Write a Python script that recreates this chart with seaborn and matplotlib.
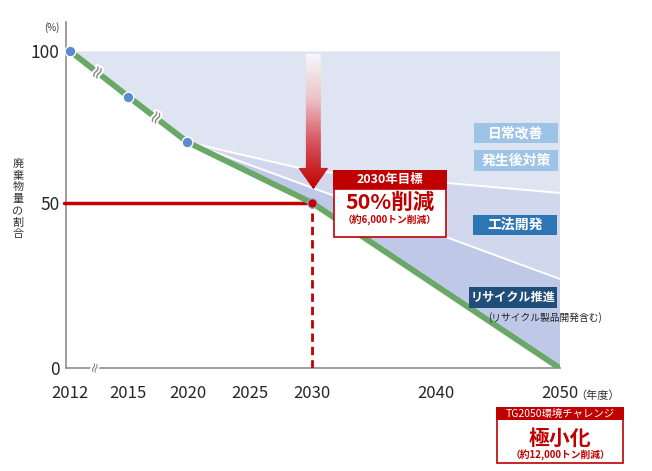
import numpy as np
import matplotlib
matplotlib.use('Agg')
import matplotlib.pyplot as plt
import seaborn as sns
from matplotlib.patches import Rectangle, Polygon
from matplotlib.colors import LinearSegmentedColormap
import matplotlib.patheffects as pe

# --- data ---
years = [2012, 2015, 2020, 2030, 2050]
waste_pct = [100, 85, 70, 50, 0]
branch_years = [2020, 2030, 2050]
upper_split = [70, 60.5, 53.3]   # 日常改善・発生後対策 | 工法開発
lower_split = [70, 55, 27]       # 工法開発 | リサイクル推進
green_tail = [70, 50, 0]
target_year, target_pct = 2030, 50
x_ticks = [2012, 2015, 2020, 2025, 2030, 2040, 2050]
x_minor = [2035, 2045]
y_ticks = [0, 50, 100]
y_minor = [16, 31, 72, 92]

sns.set_style("white")
plt.rcParams['font.family'] = ['Noto Sans CJK JP', 'DejaVu Sans']

W, H = 652, 471
fig = plt.figure(figsize=(W / 100, H / 100), dpi=100)
ax = fig.add_axes([66 / W, 1 - 368 / H, (560 - 66) / W, (368 - 22) / H])

# broken axes: 2012-2015 compressed, y not uniform
xs_year = [1990, 2012, 2015, 2020, 2030, 2050, 2070]
xs_pos = [-270, 0, 58, 117, 241, 487, 733]
ys_val = [-100, 0, 50, 100, 200]
ys_pos = [-330, 0, 165, 317, 621]
ax.set_xscale('function', functions=(lambda v: np.interp(v, xs_year, xs_pos),
                                      lambda u: np.interp(u, xs_pos, xs_year)))
ax.set_yscale('function', functions=(lambda v: np.interp(v, ys_val, ys_pos),
                                      lambda u: np.interp(u, ys_pos, ys_val)))
ax.set_xlim(2011.69, 2050.04)
ax.set_ylim(0, 109.5)

# bands
top_floor = waste_pct[:3] + upper_split[1:]
ax.fill_between(years, top_floor, 100, color='#dfe4f2', lw=0, zorder=1)
ax.fill_between(branch_years, lower_split, upper_split, color='#d1d8ee', lw=0, zorder=1)
ax.fill_between(branch_years, green_tail, lower_split, color='#bfc9e7', lw=0, zorder=1)
ax.plot(branch_years, upper_split, color='white', lw=1.4, zorder=2)
ax.plot(branch_years, lower_split, color='white', lw=1.4, zorder=2)

# gradient arrow
arrow_pts = [(2029.5, 99), (2030.7, 99), (2030.7, 61.5), (2031.3, 61.5),
             (2030.1, 54.5), (2028.9, 61.5), (2029.5, 61.5)]
clip = Polygon(arrow_pts, closed=True, facecolor='none', edgecolor='none', transform=ax.transData)
ax.add_patch(clip)
cmap = LinearSegmentedColormap.from_list('arr', ['#f6f8fc', '#ebc3c7', '#d5505a', '#c00000'])
levels = np.linspace(54.5, 99, 90)
for i in range(len(levels) - 1):
    c = cmap(1 - (levels[i] - 54.5) / 44.5)
    f = ax.fill_between([2028.7, 2031.5], levels[i], levels[i + 1] + 0.2, color=c, lw=0, zorder=3)
    f.set_clip_path(clip)

# target lines
ax.plot([2011.5, target_year], [target_pct, target_pct], color='#c00000', lw=2.5, zorder=3,
        clip_on=False)
ax.plot([target_year, target_year], [0, target_pct], color='#c00000', lw=2, ls=(0, (3, 1.8)), zorder=3)

# main line and points
sns.lineplot(x=years, y=waste_pct, color='#6aa868', lw=4.2, ax=ax, zorder=4,
             solid_capstyle='butt')
sns.scatterplot(x=years[:3], y=waste_pct[:3], s=60, color='#5b8bd0', edgecolor='white',
                linewidth=1, ax=ax, zorder=6, clip_on=False)
sns.scatterplot(x=[target_year], y=[target_pct], s=45, color='#c00000', edgecolor='#8fa8dc',
                linewidth=0.8, ax=ax, zorder=6)

# break marks
brk = [pe.withStroke(linewidth=3, foreground='white')]
for bx, by in [(2013.45, 92.8), (2017.4, 78)]:
    ax.text(bx, by, '≈', fontsize=13, color='#888888', rotation=62, ha='center', va='center',
            path_effects=brk, zorder=7, family='DejaVu Sans')
ax.text(2013.3, 0, '≈', fontsize=10, color='#888888', rotation=75, ha='center', va='center',
        path_effects=brk, zorder=7, clip_on=False, family='DejaVu Sans')

# axes styling
for s in ['top', 'right']:
    ax.spines[s].set_visible(False)
for s in ['left', 'bottom']:
    ax.spines[s].set_color('#8c8c8c')
    ax.spines[s].set_linewidth(1.2)
ax.set_xticks(x_ticks)
ax.set_xticklabels([str(t) for t in x_ticks])
ax.set_xticks(x_minor, minor=True)
ax.tick_params(axis='x', which='both', direction='in', length=5, color='#8c8c8c',
               labelsize=12, pad=12)
ax.set_yticks(y_ticks)
ax.set_yticklabels([str(t) for t in y_ticks])
ax.set_yticks(y_minor, minor=True)
ax.tick_params(axis='y', which='major', direction='out', length=3.5, color='#8c8c8c',
               labelsize=12.5, pad=1)
ax.tick_params(axis='y', which='minor', direction='in', length=3, color='#8c8c8c')
ax.grid(False)
ax.set_facecolor('white')


def fx(px):
    return px / W


def fy(py):
    return 1 - py / H


def box(x0, y0, x1, y1, face, edge=None, lw=0):
    fig.patches.append(Rectangle((fx(x0), fy(y1)), (x1 - x0) / W, (y1 - y0) / H,
                                 transform=fig.transFigure, facecolor=face,
                                 edgecolor=edge if edge else face, linewidth=lw, zorder=5))


def label(cx, cy, s, **kw):
    fig.text(fx(cx), fy(cy), s, ha='center', va='center', zorder=6, **kw)


# outer labels
label(52, 28, '(%)', fontsize=7, color='#333333')
for i, ch in enumerate('廃棄物量の割合'):
    label(18, 164 + i * 11.7, ch, fontsize=8, color='#333333')
label(598, 396, '（年度）', fontsize=8, color='#333333')

# 2030 target box
box(334, 189, 446, 237, 'white', '#c00000', 1.2)
box(333, 170, 447, 189, '#c00000')
label(390, 179, '2030年目標', fontsize=9, color='white', weight='bold')
label(390, 202, '50%削減', fontsize=15.5, color='#c00000', weight='bold')
label(390, 220, '（約6,000トン削減）', fontsize=7, color='#c00000', weight='bold')

# 2050 box
box(497, 419, 623, 463, 'white', '#c00000', 1.2)
box(496, 407, 624, 420, '#c00000')
label(560, 413.5, 'TG2050環境チャレンジ', fontsize=7.5, color='white')
label(560, 438, '極小化', fontsize=15, color='#c00000', weight='bold')
label(560, 455, '（約12,000トン削減）', fontsize=7, color='#c00000', weight='bold')

# measure labels
box(474, 123, 558, 143, '#9dc3e6')
label(516, 133, '日常改善', fontsize=10, color='white', weight='bold')
box(474, 150, 558, 171, '#9dc3e6')
label(516, 160.5, '発生後対策', fontsize=10, color='white', weight='bold')
box(473, 215, 557, 235, '#2e75b6')
label(515, 225, '工法開発', fontsize=10, color='white', weight='bold')
box(469, 287, 557, 308, '#1f4e79')
label(513, 297.5, 'リサイクル推進', fontsize=8.7, color='white', weight='bold')
label(545, 318, '(リサイクル製品開発含む)', fontsize=7, color='#222222')

plt.savefig('out.png', dpi=100)
